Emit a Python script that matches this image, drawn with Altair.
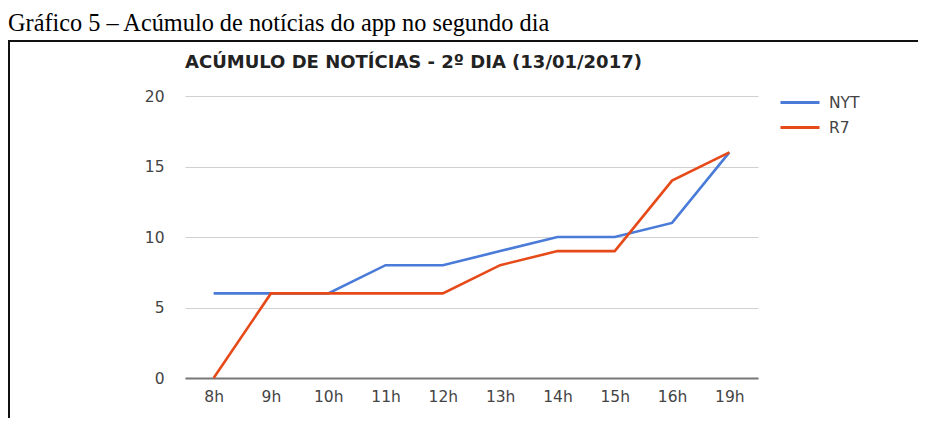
import altair as alt
import pandas as pd

hours = ["8h", "9h", "10h", "11h", "12h", "13h", "14h", "15h", "16h", "19h"]
nyt = [6, 6, 6, 8, 8, 9, 10, 10, 11, 16]
r7 = [0, 6, 6, 6, 6, 8, 9, 9, 14, 16]
series_names = ["NYT", "R7"]
series_colors = ["#4a7bd8", "#e64a19"]
y_ticks = [0, 5, 10, 15, 20]
title_text = "ACÚMULO DE NOTÍCIAS - 2º DIA (13/01/2017)"
caption_text = "Gráfico 5 – Acúmulo de notícias do app no segundo dia"

rows = []
for name, vals in zip(series_names, [nyt, r7]):
    for h, v in zip(hours, vals):
        rows.append({"hora": h, "valor": v, "serie": name})
df = pd.DataFrame(rows)

W, H = 573, 282
PL, PT = 177, 88
TOTAL_W, TOTAL_H = 910, 410

lines = alt.Chart(df).mark_line(strokeWidth=2.6).encode(
    x=alt.X("hora:N", sort=hours, scale=alt.Scale(type="point", padding=0.5),
            axis=alt.Axis(title=None, labelAngle=0, ticks=False, domainColor="#777",
                          domainWidth=2, labelPadding=11, labelFontSize=15.5,
                          labelColor="#444", labelFont="DejaVu Sans", grid=False)),
    y=alt.Y("valor:Q", scale=alt.Scale(domain=[0, 20], nice=False),
            axis=alt.Axis(title=None, values=y_ticks, ticks=False, domain=False,
                          gridColor="#d0d0d0", gridWidth=1, labelPadding=21,
                          labelFontSize=15.5, labelColor="#444", labelFont="DejaVu Sans")),
    color=alt.Color("serie:N", scale=alt.Scale(domain=series_names, range=series_colors),
                    legend=alt.Legend(title=None, orient="none", legendX=594, legendY=-6,
                                      symbolType="stroke", symbolSize=1521,
                                      symbolStrokeWidth=3, labelOffset=8,
                                      labelFontSize=15.5, labelColor="#444",
                                      labelFont="DejaVu Sans", clipHeight=25,
                                      rowPadding=0, padding=0)),
    order=alt.Order("serie:N"),
)

one = pd.DataFrame({"t": [title_text], "c": [caption_text]})

title = alt.Chart(one).mark_text(
    align="left", baseline="alphabetic", font="DejaVu Sans", fontSize=18,
    fontWeight="bold", color="#222"
).encode(text="t:N", x=alt.value(0), y=alt.value(-28))

caption = alt.Chart(one).mark_text(
    align="left", baseline="alphabetic", font="Liberation Serif", fontSize=24.3,
    color="#000"
).encode(text="c:N", x=alt.value(-PL), y=alt.value(-65))

border_top = alt.Chart(one).mark_rule(color="#111", strokeWidth=2).encode(
    x=alt.value(-PL), x2=alt.value(TOTAL_W), y=alt.value(-55)
)
border_left = alt.Chart(one).mark_rule(color="#111", strokeWidth=2).encode(
    x=alt.value(-PL + 1), y=alt.value(-55), y2=alt.value(TOTAL_H)
)

chart = alt.layer(lines, title, caption, border_top, border_left).properties(
    width=W, height=H,
    autosize=alt.AutoSizeParams(type="none"),
    padding={"left": PL, "top": PT, "right": TOTAL_W - PL - W, "bottom": TOTAL_H - PT - H},
).configure(background="white", view=alt.ViewConfig(stroke="transparent", strokeWidth=0))

chart.save("out.html", embed_options={"renderer": "svg", "actions": False})
